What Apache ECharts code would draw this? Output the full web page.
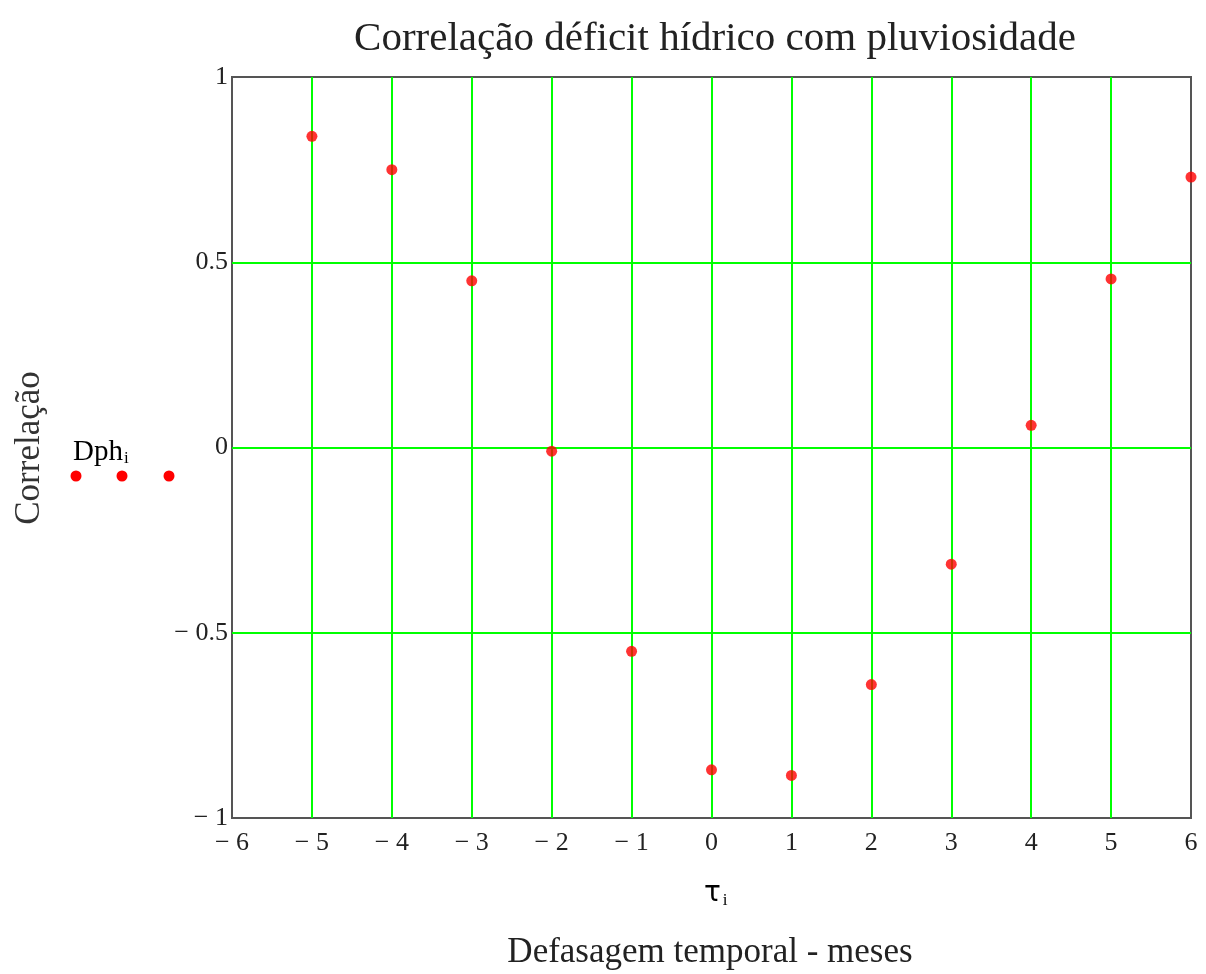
<!DOCTYPE html>
<html>
<head>
<meta charset="utf-8">
<script src="https://cdn.jsdelivr.net/npm/echarts@6/dist/echarts.min.js"></script>
<style>
  html, body { margin: 0; padding: 0; background: #fff; }
  #chart { width: 1206px; height: 974px; }
</style>
</head>
<body>
<div id="chart"></div>
<script>
// defasagem (meses) e correlação
var lags = [-5, -4, -3, -2, -1, 0, 1, 2, 3, 4, 5, 6];
var corr = [0.84, 0.75, 0.45, -0.01, -0.55, -0.87, -0.885, -0.64, -0.315, 0.06, 0.455, 0.73];
var xTicks = [-6, 6, 1];
var yTicks = [-1, 1, 0.5];

var serif = '"Liberation Serif", "DejaVu Serif", serif';
var green = '#00ff00';

function minusFmt(v) {
    return v < 0 ? '\u2212 ' + Math.abs(v) : String(v);
}

// linhas de grade só no interior (as das bordas ficam por conta da moldura)
function innerColors(min, max, step) {
    var out = [];
    for (var v = min; v <= max + 1e-9; v += step) {
        out.push(Math.abs(v - min) < 1e-9 || Math.abs(v - max) < 1e-9 ? 'rgba(0,0,0,0)' : green);
    }
    return out;
}

var chart = echarts.init(document.getElementById('chart'));

var points = [];
for (var i = 0; i < lags.length; i++) {
    points.push([lags[i], corr[i]]);
}

var option = {
    backgroundColor: '#fff',
    animation: false,
    title: {
        text: 'Correlação déficit hídrico com pluviosidade',
        left: 710,
        top: 14,
        textAlign: 'center',
        textStyle: { fontFamily: serif, fontSize: 41, fontWeight: 'normal', color: '#222' }
    },
    grid: {
        left: 232, right: 15, top: 77, bottom: 156,
        show: true,
        borderColor: '#555',
        borderWidth: 2
    },
    xAxis: {
        type: 'value',
        min: xTicks[0], max: xTicks[1], interval: xTicks[2],
        axisLine: { show: false },
        axisTick: { show: false },
        splitLine: { show: true, lineStyle: { color: innerColors(xTicks[0], xTicks[1], xTicks[2]), width: 2 } },
        axisLabel: { formatter: minusFmt, fontFamily: serif, fontSize: 26, color: '#222', margin: 12 }
    },
    yAxis: {
        type: 'value',
        min: yTicks[0], max: yTicks[1], interval: yTicks[2],
        axisLine: { show: false },
        axisTick: { show: false },
        splitLine: { show: true, lineStyle: { color: innerColors(yTicks[0], yTicks[1], yTicks[2]), width: 2 } },
        axisLabel: { formatter: minusFmt, fontFamily: serif, fontSize: 26, color: '#222', margin: 4 }
    },
    graphic: [
        {
            type: 'text', x: 30, y: 448, rotation: Math.PI / 2,
            style: { text: 'Correlação', font: '35px ' + serif, fill: '#333', textAlign: 'center', textVerticalAlign: 'middle' }
        },
        {
            type: 'text', x: 73, y: 438,
            style: {
                text: '{a|Dph}{b|i}',
                rich: {
                    a: { fontFamily: serif, fontSize: 29, color: '#222' },
                    b: { fontFamily: serif, fontSize: 17, color: '#333', padding: [12, 0, 0, 1] }
                }
            }
        },
        { type: 'circle', shape: { cx: 76, cy: 476, r: 5.5 }, style: { fill: '#ff0000' } },
        { type: 'circle', shape: { cx: 122, cy: 476, r: 5.5 }, style: { fill: '#ff0000' } },
        { type: 'circle', shape: { cx: 169, cy: 476, r: 5.5 }, style: { fill: '#ff0000' } },
        {
            type: 'text', x: 704, y: 878,
            style: {
                text: '{a|\u03c4}{b|i}',
                rich: {
                    a: { fontFamily: '"DejaVu Sans", sans-serif', fontSize: 28, color: '#222' },
                    b: { fontFamily: serif, fontSize: 17, color: '#8a3a8a', padding: [14, 0, 0, 2] }
                }
            }
        },
        {
            type: 'text', x: 710, y: 953,
            style: { text: 'Defasagem temporal - meses', font: '35px ' + serif, fill: '#222', textAlign: 'center', textVerticalAlign: 'middle' }
        }
    ],
    series: [{
        type: 'scatter',
        data: points,
        symbol: 'circle',
        symbolSize: 11,
        itemStyle: { color: '#ff0000' },
        clip: false
    }]
};

chart.setOption(option);
</script>
</body>
</html>
